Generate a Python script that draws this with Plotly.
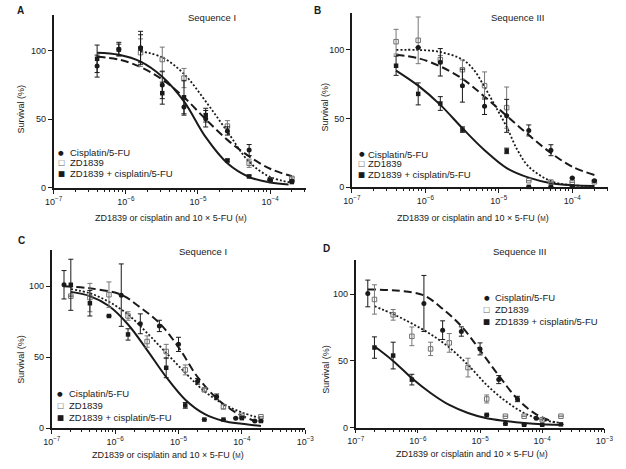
import plotly.graph_objects as go

# ================= DATA =================
# Panels A and B: drug concentrations (M)
conc_AB = [4e-7, 8e-7, 1.6e-6, 3.2e-6, 6.4e-6, 1.28e-5, 2.56e-5, 5.12e-5, 1.0e-4, 2.0e-4]
# Panels C and D: cisplatin/5-FU concentrations and ZD1839 concentrations (M)
conc_CD_cis = [1.5625e-7, 1.25e-6, 2.5e-6, 5e-6, 1e-5, 2e-5, 4e-5, 8e-5, 1.6e-4]
conc_CD = [2e-7, 4e-7, 8e-7, 1.6e-6, 3.2e-6, 6.4e-6, 1.28e-5, 2.56e-5, 5.12e-5, 1e-4, 2e-4]

# ---- Panel A (Sequence I) ----
A_cis = [88.7, 101, 102, 75, 59, 50.4, 41.5, 27.6, 5.5, 5]
A_cis_err = [8, 5, 12, 10, 6, 6, 3, 4, None, None]
A_zd = [None, None, 98.5, 93.5, 80, None, 45, 18, 6, 7]
A_zd_err = [None, None, 10, 9, 7, None, 4, 3, 1, 1]
A_combo = [94, 100.7, 101.5, 69, 66, 53, 20, 8.4, 6, 4.3]
A_combo_err = [10, 4, 10, 8, 12, 5, 1, 1, None, None]
A_cis_curve_x = [4e-7, 8e-7, 1.6e-6, 3.2e-6, 6.4e-6, 1.28e-5, 2.56e-5, 5.12e-5, 1e-4, 2e-4]
A_cis_curve = [95.5, 93.5, 88, 79, 66, 50, 35, 23, 14, 8.5]
A_zd_curve_x = [1.6e-6, 3.2e-6, 6.4e-6, 1.28e-5, 2.56e-5, 5.12e-5, 1e-4, 2e-4]
A_zd_curve = [99.5, 95, 83, 63, 41, 19, 8, 4]
A_combo_curve_x = [4e-7, 8e-7, 1.6e-6, 3.2e-6, 6.4e-6, 1.28e-5, 2.56e-5, 5.12e-5, 1e-4, 1.8e-4]
A_combo_curve = [98.5, 97, 92, 81, 63, 37, 18, 8, 4, 2.5]

# ---- Panel B (Sequence III) ----
B_cis = [None, 101.7, 91, 74, 59, 52, 41.4, 27, 6.7, 4.8]
B_cis_err = [None, None, 10, 12, 6, 12, 4, 4, None, None]
B_zd = [106, 107, 93, 85.6, 74, 58, 4.8, 3.8, 3.6, 4]
B_zd_err = [9, 17, 3, 7, 10, 15, None, None, None, None]
B_combo = [88.5, 68, 61, 42, None, 26.5, 0.3, 0.3, 0.7, None]
B_combo_err = [7, 8, 5, 2, None, 2, None, None, None, None]
B_cis_curve_x = [4e-7, 8e-7, 1.6e-6, 3.2e-6, 6.4e-6, 1.28e-5, 2.56e-5, 5.12e-5, 1e-4, 2e-4]
B_cis_curve = [96.5, 94, 88, 79, 66, 52, 38, 25, 15, 9]
B_zd_curve_x = [4e-7, 8e-7, 1.6e-6, 3.2e-6, 4.5e-6, 6.4e-6, 9e-6, 1.28e-5, 1.8e-5, 2.56e-5, 5.12e-5, 1e-4, 2e-4]
B_zd_curve = [100, 100, 98.5, 93, 86, 73, 59, 44, 27, 15, 4.5, 1.5, 1]
B_combo_curve_x = [4e-7, 8e-7, 1.6e-6, 3.2e-6, 6.4e-6, 1.28e-5, 2.56e-5, 5.12e-5, 1e-4, 2e-4]
B_combo_curve = [85, 74, 60, 43, 27, 14, 7, 3, 1.5, 1]

# ---- Panel C (Sequence I) ----
C_cis = [101, 93.7, 73.5, 72, 59, 33, 22, 7, 5]
C_cis_err = [10, 22, 7, 4, 5, 2, 2, None, None]
C_zd = [93, 92, 94, 79, 61, 54, 41, 27, 15, 9, 8]
C_zd_err = [None, 10, 9, 3, 4, 5, 3.5, 1, 1.5, None, None]
C_combo = [101, 88, 79, 66, None, 42.5, 16, 6, 6, 7, 5]
C_combo_err = [18, 9, None, 4, None, 7, 2, None, None, None, None]
C_cis_curve_x = [1.5625e-7, 4e-7, 1.25e-6, 2.5e-6, 5e-6, 1e-5, 2e-5, 4e-5, 8e-5, 1.6e-4]
C_cis_curve = [100, 98.5, 94, 85, 74, 57, 36, 21, 11, 5]
C_zd_curve_x = [2e-7, 4e-7, 8e-7, 1.6e-6, 3.2e-6, 6.4e-6, 1.28e-5, 2.56e-5, 5.12e-5, 1e-4, 2e-4]
C_zd_curve = [98, 95, 89, 80, 67, 53, 39, 26, 17, 11, 7]
C_combo_curve_x = [2e-7, 4e-7, 8e-7, 1.6e-6, 3.2e-6, 6.4e-6, 1.28e-5, 2.56e-5, 5.12e-5, 1e-4, 2e-4]
C_combo_curve = [96, 93, 86, 73, 55, 36, 20, 10, 5, 3, 1.5]

# ---- Panel D (Sequence III) ----
D_cis = [100.5, 93, 73, 72, 59, 36, 21.5, 7, None]
D_cis_err = [10, 21, 7, 3.5, 4.5, 3, 2, None, None]
D_zd = [96, 84.5, 68.4, 59, 63.5, 45, 21.5, 8.6, 8.6, 6, 8.6]
D_zd_err = [11, 4, 7, 5, 7, 7, 3, None, None, None, None]
D_combo = [60, 54, 36, None, None, None, 9.6, 3, 2.2, 2.2, 2.5]
D_combo_err = [8, 10, 4, None, None, None, None, None, None, None, None]
D_cis_curve_x = [1.5625e-7, 5e-7, 1.25e-6, 2.5e-6, 5e-6, 1e-5, 2e-5, 4e-5, 8e-5, 1.6e-4]
D_cis_curve = [103.5, 102.5, 99, 89, 76, 58, 39, 21.5, 10, 4]
D_zd_curve_x = [2e-7, 4e-7, 8e-7, 1.6e-6, 3.2e-6, 6.4e-6, 1.28e-5, 2.56e-5, 5.12e-5, 1e-4, 2e-4]
D_zd_curve = [91, 85, 78, 70, 60, 47, 32, 20, 11, 6, 3.5]
D_combo_curve_x = [2e-7, 4e-7, 8e-7, 1.6e-6, 3.2e-6, 6.4e-6, 1.28e-5, 2.56e-5, 5.12e-5, 1e-4, 2e-4]
D_combo_curve = [61, 50, 37, 26, 17, 11, 7, 5, 3.5, 2.5, 2]

series_names = ["Cisplatin/5-FU", "ZD1839", "ZD1839 + cisplatin/5-FU"]
x_tick_vals = [1e-7, 1e-6, 1e-5, 1e-4, 1e-3]
x_tick_text = ["10<sup>−7</sup>", "10<sup>−6</sup>", "10<sup>−5</sup>", "10<sup>−4</sup>", "10<sup>−3</sup>"]
y_tick_vals = [0, 50, 100]
x_title = "ZD1839 or cisplatin and 10 × 5-FU (<span style='font-size:6.5px'>M</span>)"
y_title = "Survival (%)"

# ================= FIGURE =================
W, H = 626, 469
FONT = "Liberation Sans, Arial, Helvetica, sans-serif"
INK = "#1a1a1a"


def pxx(x):
    return x / W


def pxy(y):
    return 1 - y / H


panels = [
    dict(key="A", title="Sequence I", xa="x", ya="y",
         conc=conc_AB, conc_cis=conc_AB,
         cis=A_cis, cis_err=A_cis_err, zd=A_zd, zd_err=A_zd_err, combo=A_combo, combo_err=A_combo_err,
         cis_cx=A_cis_curve_x, cis_c=A_cis_curve, zd_cx=A_zd_curve_x, zd_c=A_zd_curve,
         combo_cx=A_combo_curve_x, combo_c=A_combo_curve,
         xdom=(46, 306), ydom=(15, 190), xr=(-7, -3.5), ymax=126,
         letter=(12, 11), seq=(209, 18), xt=(167, 220), yt=(12, 110),
         leg_marker=54, leg_text=61, leg_rows=(154.3, 164.5, 175.7)),
    dict(key="B", title="Sequence III", xa="x2", ya="y2",
         conc=conc_AB, conc_cis=conc_AB,
         cis=B_cis, cis_err=B_cis_err, zd=B_zd, zd_err=B_zd_err, combo=B_combo, combo_err=B_combo_err,
         cis_cx=B_cis_curve_x, cis_c=B_cis_curve, zd_cx=B_zd_curve_x, zd_c=B_zd_curve,
         combo_cx=B_combo_curve_x, combo_c=B_combo_curve,
         xdom=(353, 617), ydom=(13, 189.3), xr=(-7, -3.51), ymax=127,
         letter=(318, 11), seq=(524, 18), xt=(478, 220), yt=(325, 108),
         leg_marker=363, leg_text=368, leg_rows=(155.7, 165.5, 176)),
    dict(key="C", title="Sequence I", xa="x3", ya="y3",
         conc=conc_CD, conc_cis=conc_CD_cis,
         cis=C_cis, cis_err=C_cis_err, zd=C_zd, zd_err=C_zd_err, combo=C_combo, combo_err=C_combo_err,
         cis_cx=C_cis_curve_x, cis_c=C_cis_curve, zd_cx=C_zd_curve_x, zd_c=C_zd_curve,
         combo_cx=C_combo_curve_x, combo_c=C_combo_curve,
         xdom=(44, 305), ydom=(253, 432.7), xr=(-7, -3), ymax=125.3,
         letter=(13, 243), seq=(200, 254), xt=(164, 460), yt=(13, 363),
         leg_marker=53, leg_text=60, leg_rows=(398, 410, 422)),
    dict(key="D", title="Sequence III", xa="x4", ya="y4",
         conc=conc_CD, conc_cis=conc_CD_cis,
         cis=D_cis, cis_err=D_cis_err, zd=D_zd, zd_err=D_zd_err, combo=D_combo, combo_err=D_combo_err,
         cis_cx=D_cis_curve_x, cis_c=D_cis_curve, zd_cx=D_zd_curve_x, zd_c=D_zd_curve,
         combo_cx=D_combo_curve_x, combo_c=D_combo_curve,
         xdom=(357, 613), ydom=(263, 432.3), xr=(-7, -3), ymax=125.4,
         letter=(327, 251), seq=(526, 254), xt=(477, 459), yt=(326, 373),
         leg_marker=492, leg_text=498, leg_rows=(301, 313, 325)),
]

fig = go.Figure()
annotations = []
layout_axes = {}

minor_vals = [k * 10.0 ** e for e in range(-7, -3) for k in range(2, 10)]

for p in panels:
    xa, ya = p["xa"], p["ya"]
    # fitted curves
    fig.add_trace(go.Scatter(x=p["combo_cx"], y=p["combo_c"], mode="lines", xaxis=xa, yaxis=ya,
                             line=dict(color=INK, width=2, shape="spline", smoothing=1.0),
                             showlegend=False, hoverinfo="skip"))
    fig.add_trace(go.Scatter(x=p["zd_cx"], y=p["zd_c"], mode="lines", xaxis=xa, yaxis=ya,
                             line=dict(color=INK, width=1.8, dash="2px,2px", shape="spline", smoothing=1.0),
                             showlegend=False, hoverinfo="skip"))
    fig.add_trace(go.Scatter(x=p["cis_cx"], y=p["cis_c"], mode="lines", xaxis=xa, yaxis=ya,
                             line=dict(color=INK, width=2, dash="8px,4px", shape="spline", smoothing=1.0),
                             showlegend=False, hoverinfo="skip"))
    # data points
    fig.add_trace(go.Scatter(x=p["conc"], y=p["zd"], mode="markers", xaxis=xa, yaxis=ya, name=series_names[1],
                             marker=dict(symbol="square-open", size=4.5, color="#707070", line=dict(width=1)),
                             error_y=dict(type="data", array=p["zd_err"], color="#777777", thickness=1, width=2.5),
                             cliponaxis=False, showlegend=False))
    fig.add_trace(go.Scatter(x=p["conc_cis"], y=p["cis"], mode="markers", xaxis=xa, yaxis=ya, name=series_names[0],
                             marker=dict(symbol="circle", size=5, color=INK),
                             error_y=dict(type="data", array=p["cis_err"], color=INK, thickness=1, width=2.5),
                             cliponaxis=False, showlegend=False))
    fig.add_trace(go.Scatter(x=p["conc"], y=p["combo"], mode="markers", xaxis=xa, yaxis=ya, name=series_names[2],
                             marker=dict(symbol="square", size=4.5, color=INK),
                             error_y=dict(type="data", array=p["combo_err"], color=INK, thickness=1, width=2.5),
                             cliponaxis=False, showlegend=False))

    xname = "xaxis" + xa[1:]
    yname = "yaxis" + ya[1:]
    x0, x1 = p["xdom"]
    yt0, yb0 = p["ydom"]
    layout_axes[xname] = dict(
        type="log", domain=[pxx(x0), pxx(x1)], range=list(p["xr"]), anchor=ya,
        showline=True, linecolor=INK, linewidth=1.6, showgrid=False, zeroline=False,
        ticks="outside", ticklen=4, tickwidth=1.2, tickcolor=INK,
        tickmode="array", tickvals=x_tick_vals, ticktext=x_tick_text,
        tickfont=dict(family=FONT, size=9, color=INK),
        minor=dict(tickmode="array", tickvals=minor_vals, ticks="outside", ticklen=2.2,
                   tickwidth=1, tickcolor=INK, showgrid=False),
    )
    layout_axes[yname] = dict(
        domain=[pxy(yb0), pxy(yt0)], range=[0, p["ymax"]], anchor=xa,
        showline=True, linecolor=INK, linewidth=1.6, showgrid=False, zeroline=False,
        ticks="outside", ticklen=4, tickwidth=1.2, tickcolor=INK,
        tickmode="array", tickvals=y_tick_vals,
        tickfont=dict(family=FONT, size=9, color=INK),
    )

    # texts
    lx, ly = p["letter"]
    annotations.append(dict(text="<b>%s</b>" % p["key"], x=pxx(lx), y=pxy(ly), xref="paper", yref="paper",
                            showarrow=False, xanchor="center", yanchor="middle",
                            font=dict(family=FONT, size=10, color=INK)))
    sx, sy = p["seq"]
    annotations.append(dict(text=p["title"], x=pxx(sx), y=pxy(sy), xref="paper", yref="paper",
                            showarrow=False, xanchor="center", yanchor="middle",
                            font=dict(family=FONT, size=9.5, color=INK)))
    tx, ty = p["xt"]
    annotations.append(dict(text=x_title, x=pxx(tx), y=pxy(ty), xref="paper", yref="paper",
                            showarrow=False, xanchor="center", yanchor="middle",
                            font=dict(family=FONT, size=9, color=INK)))
    yx, yy = p["yt"]
    annotations.append(dict(text=y_title, x=pxx(yx), y=pxy(yy), xref="paper", yref="paper",
                            showarrow=False, xanchor="center", yanchor="middle", textangle=-90,
                            font=dict(family=FONT, size=9, color=INK)))
    # legend (marker glyph + label per row)
    glyphs = [("●", 6.5, INK), ("□", 7.5, "#666666"), ("■", 7.5, INK)]
    for (g, gs, gc), name, ry in zip(glyphs, series_names, p["leg_rows"]):
        annotations.append(dict(text=g, x=pxx(p["leg_marker"]), y=pxy(ry), xref="paper", yref="paper",
                                showarrow=False, xanchor="center", yanchor="middle",
                                font=dict(family="DejaVu Sans", size=gs, color=gc)))
        annotations.append(dict(text=name, x=pxx(p["leg_text"]), y=pxy(ry), xref="paper", yref="paper",
                                showarrow=False, xanchor="left", yanchor="middle",
                                font=dict(family=FONT, size=9.5, color=INK)))

fig.update_layout(
    width=W, height=H, margin=dict(l=0, r=0, t=0, b=0),
    paper_bgcolor="white", plot_bgcolor="white",
    showlegend=False, annotations=annotations,
    font=dict(family=FONT, color=INK),
    **layout_axes,
)

fig.write_html("out.html", config={"displayModeBar": False},
               post_script="document.body.style.margin='0';")
